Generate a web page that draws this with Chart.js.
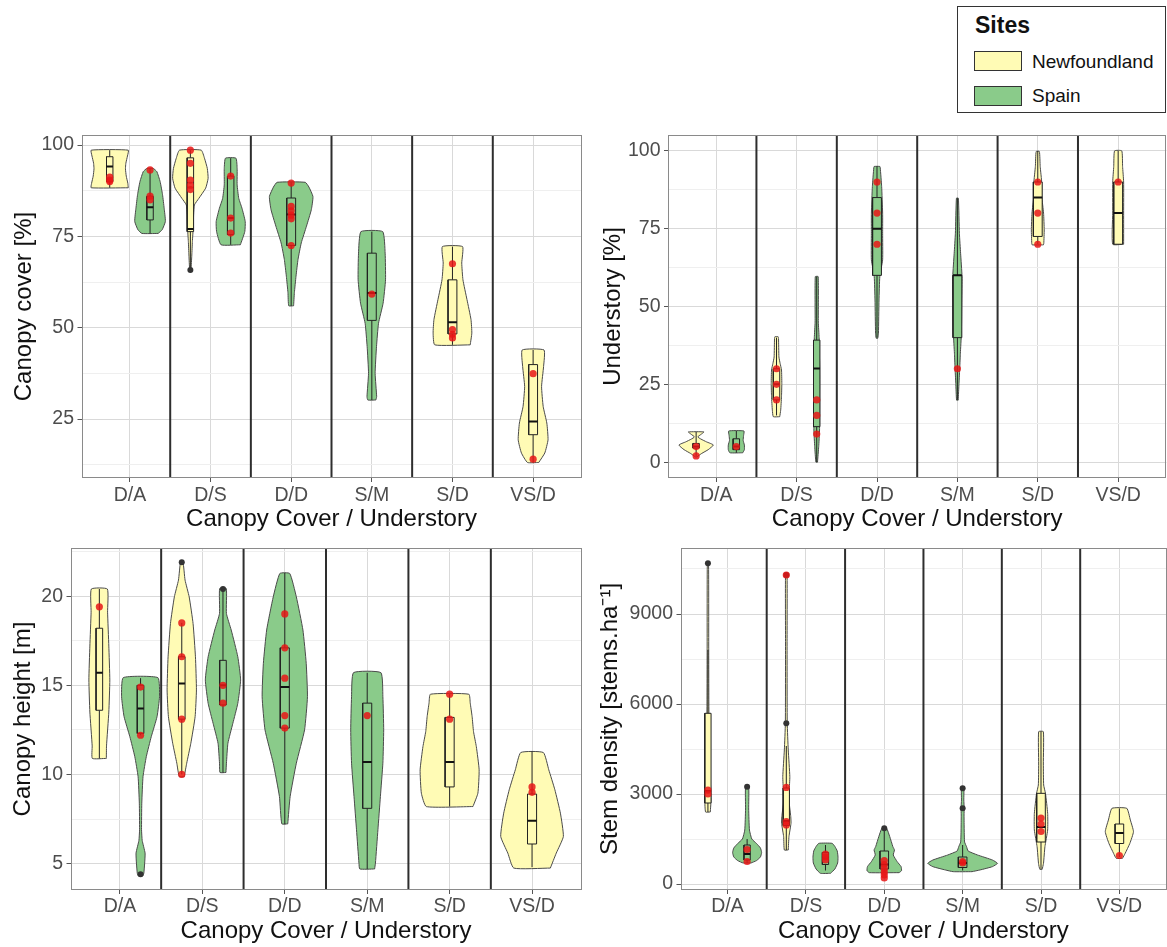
<!DOCTYPE html>
<html>
<head>
<meta charset="utf-8">
<title>Canopy / Understory violins</title>
<script src="https://cdn.jsdelivr.net/npm/chart.js@4.4.1/dist/chart.umd.min.js"></script>
<style>
  html, body { margin:0; padding:0; background:#fff; }
  body { width:1167px; height:947px; overflow:hidden; position:relative; font-family:'Liberation Sans', Arial, sans-serif; }
  .panel { position:absolute; }
  .panel canvas { display:block; }
  #legend { position:absolute; left:957px; top:6px; width:207px; height:105px; border:1px solid #333; background:#fff; }
  #legend .title { position:absolute; left:17px; top:6px; line-height:24px; font-weight:bold; font-size:23px; color:#111; }
  #legend .key { position:absolute; left:16px; width:46px; height:18px; border:1px solid #333; }
  #legend .lab { position:absolute; left:74px; line-height:22px; font-size:19px; color:#111; }
</style>
</head>
<body>
<div id="legend">
  <div class="title">Sites</div>
  <div class="key" style="top:44px;background:#FFFBB5"></div>
  <div class="lab" style="top:44px">Newfoundland</div>
  <div class="key" style="top:79px;background:#8ACB8A"></div>
  <div class="lab" style="top:78px">Spain</div>
</div>
<div class="panel" style="left:0px;top:115px"><canvas id="c1" width="590" height="425"></canvas></div>
<div class="panel" style="left:590px;top:115px"><canvas id="c2" width="580" height="425"></canvas></div>
<div class="panel" style="left:0px;top:528px"><canvas id="c3" width="590" height="419"></canvas></div>
<div class="panel" style="left:590px;top:528px"><canvas id="c4" width="580" height="419"></canvas></div>
<script>
// ---------------- data ----------------
const categories = ['D/A', 'D/S', 'D/D', 'S/M', 'S/D', 'VS/D'];
const sites = ['Newfoundland', 'Spain'];
// each violin group: category index and site index (same groups in all panels)
const groupCategory = [0, 0, 1, 1, 2, 3, 4, 5];
const groupSite     = [0, 1, 0, 1, 1, 1, 0, 0];

// Canopy cover [%] : violin density as [value, half-width]
const coverTicks = [25, 50, 75, 100];
const coverMinorTicks = [12.5, 37.5, 62.5, 87.5];
const coverDensity = [
  [[88.3,0.23],[89.5,0.225],[91.5,0.205],[93.5,0.195],[95,0.2],[97,0.22],[98.6,0.23]],
  [[75.8,0.1],[76.8,0.15],[79.1,0.19],[82.7,0.175],[86.4,0.155],[90,0.125],[92.7,0.085],[93.6,0.04]],
  [[65.8,0.008],[69.9,0.018],[73.6,0.025],[77.2,0.035],[80.9,0.04],[83.6,0.05],[85.4,0.105],[88.2,0.19],[90.9,0.22],[93.6,0.21],[96.4,0.175],[98.6,0.135]],
  [[72.7,0.12],[76.3,0.175],[79.1,0.18],[82.7,0.14],[85.4,0.1],[89.1,0.08],[93.6,0.08],[96.4,0.065]],
  [[56,0.03],[59.6,0.04],[64.1,0.06],[68.7,0.085],[73.2,0.125],[77.8,0.19],[82.3,0.25],[85.9,0.27],[88.5,0.22],[89.8,0.175]],
  [[30.2,0.05],[31.1,0.06],[37.5,0.041],[44.8,0.058],[51.2,0.083],[56.7,0.14],[63.1,0.17],[70.4,0.165],[76.3,0.135]],
  [[45.3,0.22],[48.5,0.24],[52.2,0.23],[57.7,0.18],[63.1,0.13],[67.7,0.115],[72.2,0.125]],
  [[13.1,0.07],[15.7,0.145],[19.3,0.185],[23.9,0.17],[28.4,0.125],[33.9,0.105],[39.4,0.13],[43.9,0.135]]
];
// [lower whisker, q1, median, q3, upper whisker]
const coverBoxes = [
  [88.3, 90, 94.1, 96.8, 98.6],
  [75.8, 79.5, 83, 86, 93.6],
  [65.8, 76.3, 77, 96.5, 98.6],
  [72.7, 75.5, 80, 91.5, 96.4],
  [56, 72.5, 81, 85.5, 89.8],
  [30.2, 52, 59.5, 70.4, 76.3],
  [45.3, 48.3, 51.5, 63.1, 72.2],
  [13.1, 20.7, 24.3, 39.9, 43.9]
];
const coverPoints = [
  [91.2, 90.4, 90], [93.2, 86, 85], [98.6, 95, 90.4, 89, 87.8], [91.5, 80, 75.9],
  [89.6, 83.2, 82, 80.8, 79.8, 72.5], [59.2], [67.5, 49.5, 48.2, 47.2], [37.4, 14]
];
const coverOutliers = [[], [], [65.8], [], [], [], [], []];

// Understory [%]
const underTicks = [0, 25, 50, 75, 100];
const underMinorTicks = [12.5, 37.5, 62.5, 87.5];
const underDensity = [
  [[1.7,0.01],[2.8,0.07],[4,0.15],[5.5,0.215],[6.5,0.13],[7.4,0.06],[8.1,0.02],[8.9,0.06],[9.7,0.097]],
  [[3,0.08],[4,0.1],[5.5,0.1],[7,0.085],[8.5,0.09],[10,0.095]],
  [[14.6,0.04],[16.7,0.052],[21,0.062],[25.3,0.066],[29.6,0.062],[31.7,0.045],[33.8,0.03],[39.7,0.025],[40.3,0.02]],
  [[0,0.01],[5,0.025],[10,0.035],[20,0.037],[30,0.037],[40,0.03],[45,0.02],[59.6,0.018]],
  [[39.8,0.01],[41.4,0.018],[52.1,0.025],[59.6,0.035],[65,0.07],[73.5,0.07],[80,0.07],[88.5,0.058],[94.6,0.04],[95,0.035]],
  [[19.9,0.01],[25.3,0.02],[30.6,0.03],[35,0.037],[41.4,0.05],[52.1,0.055],[59.6,0.058],[67.1,0.04],[73.5,0.025],[84.8,0.012]],
  [[69.8,0.07],[70.3,0.075],[74.6,0.08],[80,0.072],[85.3,0.05],[89.6,0.05],[95,0.03],[99.8,0.02]],
  [[70,0.068],[80,0.068],[90,0.068],[95,0.055],[100,0.045]]
];
const underBoxes = [
  [2, 4.5, 5, 6, 9.7],
  [3, 4, 5, 7.5, 10],
  [15, 20, 25, 30, 40],
  [0, 11.4, 30.1, 39.2, 59.6],
  [40, 60, 75, 85, 95],
  [20, 40, 60, 60, 84.8],
  [70, 72.5, 85, 90, 100],
  [70, 70, 80, 90, 100]
];
const underPoints = [[2, 5], [5], [30, 25, 20], [20, 15, 9], [90, 80, 70], [30], [90, 80, 70], [90]];
const underOutliers = [[], [], [], [], [], [], [], []];

// Canopy height [m]
const heightTicks = [5, 10, 15, 20];
const heightMinorTicks = [7.5, 12.5, 17.5, 22.5];
const heightDensity = [
  [[10.9,0.085],[11.6,0.087],[13.5,0.115],[15.3,0.127],[17.2,0.115],[19.1,0.1],[20.4,0.097]],
  [[4.32,0.03],[4.47,0.04],[5.03,0.05],[5.59,0.055],[6.3,0.02],[6.9,0.012],[8.39,0.015],[9.88,0.03],[11,0.07],[12.12,0.13],[13.24,0.2],[14.36,0.23],[15.43,0.21]],
  [[9.88,0.03],[10.63,0.06],[11.75,0.11],[13.24,0.162],[14.74,0.178],[16.6,0.166],[18.47,0.137],[19.96,0.09],[20.9,0.04],[21.92,0.015]],
  [[10.11,0.036],[10.63,0.042],[11.75,0.06],[12.87,0.12],[13.99,0.18],[15.3,0.214],[16.6,0.18],[18.1,0.1],[19.03,0.042],[20.43,0.04]],
  [[7.23,0.036],[8.76,0.065],[10.63,0.14],[12.5,0.24],[14.36,0.275],[16.23,0.26],[18.1,0.22],[19.96,0.14],[21.27,0.06]],
  [[4.7,0.09],[5.03,0.1],[6.9,0.13],[8.76,0.16],[10.63,0.19],[12.5,0.2],[14.36,0.19],[15.71,0.166]],
  [[8.2,0.283],[8.95,0.343],[10.26,0.358],[11.56,0.324],[12.4,0.29],[13.24,0.273],[14,0.25],[14.5,0.233]],
  [[4.75,0.222],[5.59,0.294],[6.52,0.38],[7.83,0.344],[9.14,0.277],[10.26,0.203],[11.23,0.137]]
];
const heightBoxes = [
  [10.9, 13.6, 15.7, 18.2, 20.4],
  [12.2, 12.3, 13.7, 15, 15.4],
  [10, 13.1, 15.1, 16.6, 18.5],
  [10.1, 13.9, 15, 16.4, 20.4],
  [7.2, 12.6, 14.9, 17.1, 21.3],
  [4.7, 8.1, 10.7, 14, 15.7],
  [8.2, 9.3, 10.7, 13.2, 14.5],
  [4.8, 6.1, 7.4, 8.9, 11.3]
];
const heightPoints = [[19.4], [14.9, 12.2], [18.5, 16.6, 13.1, 10], [15, 14], [19, 17.1, 15.4, 13.3, 12.6], [13.3], [14.5, 13.1], [9.3, 9.0]];
const heightOutliers = [[], [4.4], [21.9], [20.4], [], [], [], []];

// Stem density [stems.ha-1]
const stemTicks = [0, 3000, 6000, 9000];
const stemMinorTicks = [1500, 4500, 7500, 10500];
const stemDensity = [
  [[2400,0.03],[2800,0.04],[3200,0.035],[4000,0.02],[5000,0.015],[6000,0.012],[8000,0.01],[10690,0.008]],
  [[700,0.05],[780,0.12],[900,0.17],[1050,0.185],[1200,0.17],[1350,0.12],[1500,0.06],[1800,0.03],[2500,0.02],[3243,0.02]],
  [[1133,0.025],[1578,0.034],[2022,0.06],[2244,0.057],[2689,0.038],[3133,0.038],[3578,0.045],[4467,0.025],[5356,0.012],[8000,0.01],[10300,0.01]],
  [[356,0.064],[500,0.12],[700,0.155],[890,0.16],[1100,0.15],[1250,0.12],[1356,0.085]],
  [[378,0.19],[444,0.22],[578,0.215],[744,0.165],[967,0.115],[1133,0.13],[1244,0.11],[1578,0.07],[1856,0.03]],
  [[411,0.12],[467,0.22],[578,0.38],[689,0.445],[800,0.38],[967,0.19],[1100,0.07],[1244,0.05],[1400,0.025],[1800,0.02],[2300,0.018],[2522,0.02],[2800,0.015],[3189,0.015]],
  [[489,0.015],[689,0.032],[1244,0.05],[1800,0.085],[2356,0.085],[3022,0.057],[3300,0.034],[4000,0.03],[5078,0.03]],
  [[856,0.04],[1022,0.074],[1356,0.134],[1744,0.18],[2133,0.14],[2522,0.095]]
];
const stemBoxes = [
  [2400, 2700, 3100, 5690, 7800],
  [700, 800, 1000, 1300, 1500],
  [1133, 1950, 2100, 3200, 4600],
  [450, 650, 850, 1050, 1300],
  [378, 500, 650, 1100, 1800],
  [450, 550, 700, 900, 1300],
  [489, 1400, 1900, 3022, 5078],
  [900, 1350, 1700, 2000, 2522]
];
const stemPoints = [[3130, 3000], [1150, 750], [10300, 3220, 2080, 1970], [1000, 900, 800], [780, 650, 520, 400, 300, 200], [750, 700], [2200, 2000, 1750], [950]];
const stemOutliers = [[10690], [3243], [5356, 10300], [], [1856], [3189, 2522], [], []];

// ---------------- styling ----------------
const FONT = "'Liberation Sans', Arial, sans-serif";
const SITE_FILL = ['#FFFBB5', '#8ACB8A'];
const OUTLINE = '#4a4a4a';
const SEP = '#2e2e2e';
const GRID_MAJOR = '#d9d9d9';
const GRID_MINOR = '#efefef';
const TICK_COL = '#4d4d4d';
const TITLE_COL = '#111111';
const RED = 'rgba(232,22,22,0.85)';
const DODGE = 0.25;
const separators = [1.5, 2.5, 3.5, 4.5, 5.5];

const framePlugin = {
  id: 'frame',
  afterDraw(chart) {
    const {ctx, chartArea: a} = chart;
    ctx.save();
    ctx.strokeStyle = '#8a8a8a';
    ctx.lineWidth = 1;
    ctx.strokeRect(Math.round(a.left) + 0.5, Math.round(a.top) + 0.5, Math.round(a.right - a.left) - 1, Math.round(a.bottom - a.top) - 1);
    ctx.restore();
  }
};

function makePanel(id, cfg) {
  const {density, boxes, points, outliers, range, major, minor, yTitle, geo} = cfg;
  const counts = {};
  groupCategory.forEach(c => { counts[c] = (counts[c] || 0) + 1; });
  const datasets = [];
  const line = (data, color, width, order, extra) => Object.assign({
    data, showLine: true, borderColor: color, borderWidth: width,
    pointRadius: 0, pointHoverRadius: 0, fill: false, tension: 0, order
  }, extra || {});

  separators.forEach(s => datasets.push(line([{x: s, y: range[0]}, {x: s, y: range[1]}], SEP, 2, 100)));

  const red = [], out = [];
  groupCategory.forEach((c, i) => {
    const s = groupSite[i];
    const dodged = counts[c] > 1;
    const xc = c + 1 + (dodged ? (s === 0 ? -DODGE : DODGE) : 0);
    const bw = dodged ? 0.04 : 0.055;
    const prof = density[i];
    const poly = prof.map(([y, w]) => ({x: xc + w, y}))
      .concat(prof.slice().reverse().map(([y, w]) => ({x: xc - w, y})));
    poly.push(poly[0]);
    datasets.push(line(poly, OUTLINE, 1, 90, {fill: 'shape', backgroundColor: SITE_FILL[s], tension: 0.15}));
    const [lo, q1, med, q3, hi] = boxes[i];
    datasets.push(line([{x: xc, y: lo}, {x: xc, y: q1}], '#222', 1, 80));
    datasets.push(line([{x: xc, y: q3}, {x: xc, y: hi}], '#222', 1, 80));
    datasets.push(line([{x: xc - bw, y: q1}, {x: xc + bw, y: q1}, {x: xc + bw, y: q3}, {x: xc - bw, y: q3}, {x: xc - bw, y: q1}],
      '#222', 1, 70, {fill: 'shape', backgroundColor: SITE_FILL[s]}));
    datasets.push(line([{x: xc - bw, y: med}, {x: xc + bw, y: med}], '#111', 2, 60));
    points[i].forEach(v => red.push({x: xc, y: v}));
    outliers[i].forEach(v => out.push({x: xc, y: v}));
  });
  datasets.push({data: out, pointRadius: 3, pointHoverRadius: 0, pointBackgroundColor: '#333', pointBorderWidth: 0, order: 20});
  datasets.push({data: red, pointRadius: 3.6, pointHoverRadius: 0, pointBackgroundColor: RED, pointBorderWidth: 0, order: 10});

  const isMajor = v => major.indexOf(v) >= 0;
  new Chart(document.getElementById(id), {
    type: 'scatter',
    data: {datasets},
    options: {
      responsive: false, animation: false, events: [],
      layout: {padding: {top: geo.padTop, right: geo.padRight, left: 0, bottom: 0}},
      plugins: {legend: {display: false}, tooltip: {enabled: false}},
      scales: {
        x: {
          type: 'linear', min: 0.4, max: 6.6,
          afterBuildTicks: sc => { sc.ticks = categories.map((_, k) => ({value: k + 1})); },
          afterFit: sc => { sc.height = geo.xAxisH; sc.paddingLeft = 0; sc.paddingRight = 0; },
          ticks: {autoSkip: false, maxRotation: 0, padding: geo.xTickPad, color: TICK_COL,
                  font: {family: FONT, size: 19.5}, callback: v => categories[Math.round(v) - 1]},
          grid: {color: GRID_MAJOR, lineWidth: 1, drawTicks: true, tickLength: 4, tickColor: '#555'},
          border: {display: false},
          title: {display: true, text: 'Canopy Cover / Understory', color: TITLE_COL,
                  font: {family: FONT, size: 24, lineHeight: 1.2}, padding: {top: 0, bottom: geo.xTitlePad}}
        },
        y: {
          type: 'linear', min: range[0], max: range[1],
          afterBuildTicks: sc => { sc.ticks = major.concat(minor).sort((a, b) => a - b).map(v => ({value: v})); },
          afterFit: sc => { sc.width = geo.yAxisW; sc.paddingTop = 0; sc.paddingBottom = 0; },
          ticks: {autoSkip: false, padding: 3.5, color: TICK_COL, font: {family: FONT, size: 19.5},
                  callback: v => isMajor(v) ? String(v) : ''},
          grid: {
            color: c => (c.tick && isMajor(c.tick.value)) ? GRID_MAJOR : GRID_MINOR,
            tickColor: c => (c.tick && isMajor(c.tick.value)) ? '#555' : 'rgba(0,0,0,0)',
            lineWidth: 1, drawTicks: true, tickLength: 4
          },
          border: {display: false},
          title: {display: true, text: yTitle, color: TITLE_COL,
                  font: {family: FONT, size: 24, lineHeight: 1.2}, padding: {top: geo.yTitlePad, bottom: 0}}
        }
      }
    },
    plugins: [framePlugin]
  });
}

makePanel('c1', {density: coverDensity, boxes: coverBoxes, points: coverPoints, outliers: coverOutliers,
  range: [8.85, 102.75], major: coverTicks, minor: coverMinorTicks, yTitle: 'Canopy cover [%]',
  geo: {padTop: 20, padRight: 8.5, yAxisW: 81.5, xAxisH: 62, xTitlePad: 6.6, yTitlePad: 9.6, xTickPad: 1.5}});
makePanel('c2', {density: underDensity, boxes: underBoxes, points: underPoints, outliers: underOutliers,
  range: [-5.1, 105.1], major: underTicks, minor: underMinorTicks, yTitle: 'Understory [%]',
  geo: {padTop: 20, padRight: 2, yAxisW: 78, xAxisH: 62, xTitlePad: 6.6, yTitlePad: 8.6, xTickPad: 1.5}});
makePanel('c3', {density: heightDensity, boxes: heightBoxes, points: heightPoints, outliers: heightOutliers,
  range: [3.52, 22.7], major: heightTicks, minor: heightMinorTicks, yTitle: 'Canopy height [m]',
  geo: {padTop: 20, padRight: 8.5, yAxisW: 70.5, xAxisH: 57, xTitlePad: 1.6, yTitlePad: 8.6, xTickPad: 1}});
makePanel('c4', {density: stemDensity, boxes: stemBoxes, points: stemPoints, outliers: stemOutliers,
  range: [-200, 11200], major: stemTicks, minor: stemMinorTicks, yTitle: 'Stem density [stems.ha\u207B\u00B9]',
  geo: {padTop: 20, padRight: 2, yAxisW: 90.5, xAxisH: 57, xTitlePad: 1.6, yTitlePad: 5.6, xTickPad: 1}});
</script>
</body>
</html>
